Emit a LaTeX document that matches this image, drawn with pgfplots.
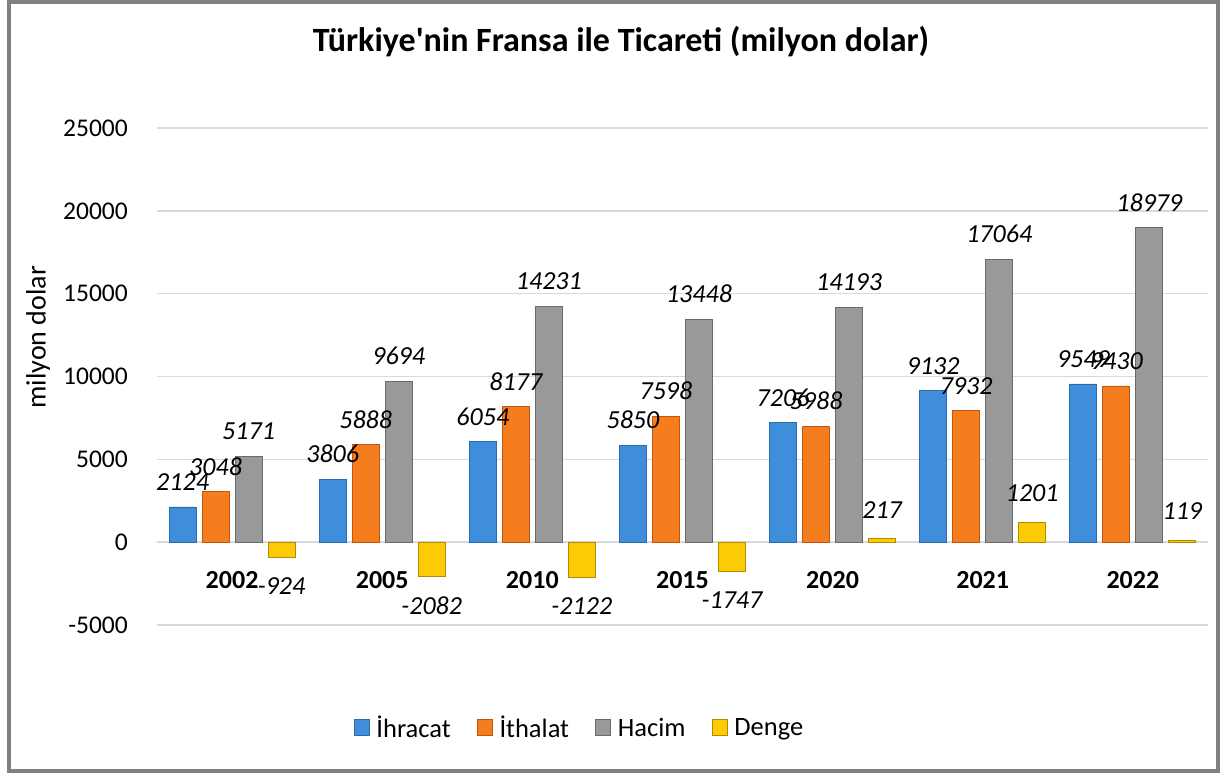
\documentclass[border=0pt]{standalone}
\usepackage{fontspec}
\setmainfont{Carlito}
\usepackage{pgfplots}
\pgfplotsset{compat=1.18}
\definecolor{bluedark}{HTML}{2C6AAE}
\definecolor{bluefill}{HTML}{3F8EDB}
\definecolor{orangedark}{HTML}{BF580E}
\definecolor{orangefill}{HTML}{F67D1E}
\definecolor{graydark}{HTML}{6A6A6A}
\definecolor{grayfill}{HTML}{999999}
\definecolor{yellowdark}{HTML}{B08A00}
\definecolor{yellowfill}{HTML}{FCCB05}
\definecolor{gridgray}{HTML}{D9D9D9}
\definecolor{framegray}{HTML}{808080}
\pgfplotsset{mylegend/.style={legend image code/.code={\draw[##1,line width=0.8pt] (0pt,-8pt) rectangle (15pt,8pt);}}}
\begin{document}
\begin{tikzpicture}[x=1pt,y=1pt]
\path[use as bounding box] (0,0) rectangle (1220,775);
\draw[line width=4pt, color=framegray] (9,4) rectangle (1218,773);
\begin{axis}[
  at={(157pt,150pt)}, anchor=south west,
  scale only axis, width=1051pt, height=497pt,
  ymin=-5000, ymax=25000, ytick={-5000,0,5000,10000,15000,20000,25000},
  xmin=-0.5, xmax=6.5, xtick={0,1,2,3,4,5,6},
  xticklabels={2002,2005,2010,2015,2020,2021,2022},
  ybar=6pt, bar width=27pt,
  axis line style={draw=none}, major tick length=0pt,
  ymajorgrids, grid style={color=gridgray, line width=1.6pt},
  scaled y ticks=false,
  /pgf/number format/fixed,
  /pgf/number format/precision=0,
  /pgf/number format/set thousands separator={},
  /pgf/number format/assume math mode=true,
  yticklabel style={anchor=east, xshift=-29pt, inner sep=0pt, font=\fontsize{25.5}{30}\selectfont},
  xticklabel style={anchor=center, yshift=45pt, inner sep=0pt, font=\bfseries\fontsize{26}{30}\selectfont},
  ylabel={milyon dolar},
  ylabel style={at={(axis description cs:-0.113,0.579)}, anchor=center, rotate=0, font=\fontsize{28}{32}\selectfont},
  title={Türkiye\textquotesingle nin Fransa ile Ticareti (milyon dolar)},
  title style={at={(axis description cs:0.4415,1.161)}, anchor=center, font=\bfseries\fontsize{34}{40}\selectfont},
  nodes near coords,
  nodes near coords style={font=\itshape\fontsize{26}{30}\selectfont, text=black, inner ysep=16pt, inner xsep=0pt},
  every axis plot post/.append style={mylegend},
  legend style={at={(axis description cs:0.401,-0.207)}, anchor=center, legend columns=4, draw=none, fill=none,
    font=\fontsize{26.5}{30}\selectfont,
    nodes={inner sep=0pt},
    /tikz/every odd column/.append style={column sep=7pt},
    /tikz/every even column/.append style={column sep=26pt}},
  clip=false,
]
\addplot[draw=bluedark, fill=bluefill, line width=0.8pt]
  coordinates {(0,2124) (1,3806) (2,6054) (3,5850) (4,7206) (5,9132) (6,9549)};
\addplot[draw=orangedark, fill=orangefill, line width=0.8pt,
  point meta=explicit symbolic]
  table[x=x, y=y, meta=lab] {
x y lab
0 3048 3048
1 5888 5888
2 8177 8177
3 7598 7598
4 6988 5988
5 7932 7932
6 9430 9430
};
\addplot[draw=graydark, fill=grayfill, line width=0.8pt]
  coordinates {(0,5171) (1,9694) (2,14231) (3,13448) (4,14193) (5,17064) (6,18979)};
\addplot[draw=yellowdark, fill=yellowfill, line width=0.8pt,
  nodes near coords style={inner ysep=20pt}]
  coordinates {(0,-924) (1,-2082) (2,-2122) (3,-1747) (4,217) (5,1201) (6,119)};
\legend{İhracat, İthalat, Hacim, Denge}
\end{axis}
\end{tikzpicture}
\end{document}
